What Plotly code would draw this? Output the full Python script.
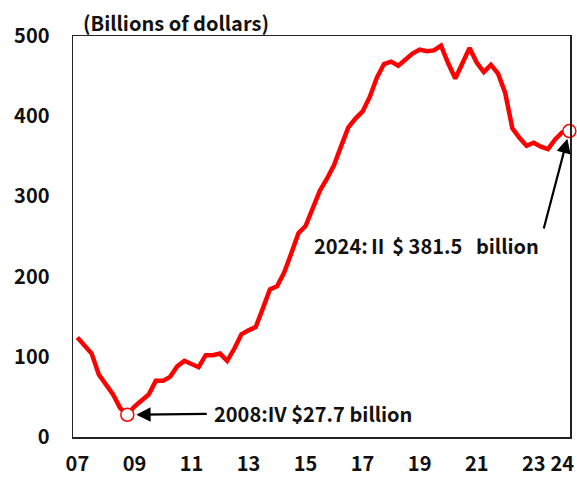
import plotly.graph_objects as go

# Quarterly values, 2007:I .. 2024:II (billions of dollars)
years = list(range(2007, 2025))
values = [124, 114, 104, 78, 66, 53, 36, 27.7,
          38, 46, 53, 70, 70, 75, 88, 95,
          91, 87, 102, 102, 104, 95, 110, 128,
          133, 137, 160, 184, 188, 205, 229, 254,
          263, 287, 307, 322, 339, 363, 386, 397,
          406, 424, 448, 465, 468, 463, 471, 478,
          483, 481, 482, 488, 466, 447, 466, 485,
          467, 455, 464, 453, 429, 385, 373, 363,
          367, 362, 359, 371, 380, 381.5]
tick_years = [2007, 2009, 2011, 2013, 2015, 2017, 2019, 2021, 2023, 2024]
tick_labels = ["07", "09", "11", "13", "15", "17", "19", "21", "23", "24"]
y_ticks = [0, 100, 200, 300, 400, 500]

x = [2007 + i / 4 for i in range(len(values))]
low_i = values.index(min(values))
last_i = len(values) - 1

FONT = "Noto Sans CJK KR"
FS = 20
W, H = 577, 477
L, T, R, B = 73, 36, 7, 40
PW, PH = W - L - R, H - T - B

fig = go.Figure()
fig.add_trace(go.Scatter(x=x, y=values, mode="lines",
                         line=dict(color="#FF0000", width=4.5),
                         hoverinfo="skip", cliponaxis=False))
fig.add_trace(go.Scatter(x=[x[low_i], x[last_i]], y=[values[low_i], values[last_i]],
                         mode="markers", cliponaxis=False, hoverinfo="skip",
                         marker=dict(size=13, color="white",
                                     line=dict(color="#FF0000", width=1.5))))

fig.update_layout(
    width=W, height=H,
    margin=dict(l=L, r=R, t=T, b=B, autoexpand=False),
    plot_bgcolor="white", paper_bgcolor="white",
    showlegend=False,
    font=dict(family=FONT, size=FS, color="#111111"),
)
fig.update_xaxes(range=[2006.846, 2024.272], tickvals=tick_years, ticktext=tick_labels,
                 showgrid=False, zeroline=False, showline=True, linecolor="#222222",
                 linewidth=1.5, mirror=True, ticks="", ticklabelstandoff=8,
                 automargin=False,
                 tickfont=dict(family=FONT, size=FS, weight="bold"))
fig.update_yaxes(range=[0, 500], tickvals=y_ticks,
                 showgrid=False, zeroline=False, showline=True, linecolor="#222222",
                 linewidth=1.5, mirror=True, ticks="", ticklabelstandoff=18,
                 automargin=False,
                 tickfont=dict(family=FONT, size=FS, weight="bold"))

# arrows
fig.add_annotation(x=x[low_i], y=values[low_i], ax=81, ay=-1, text="",
                   showarrow=True, arrowhead=2, arrowsize=1.3, arrowwidth=2.2,
                   arrowcolor="black", standoff=9)
fig.add_annotation(x=x[last_i], y=values[last_i], ax=-26, ay=99, text="",
                   showarrow=True, arrowhead=2, arrowsize=1.3, arrowwidth=2.2,
                   arrowcolor="black", standoff=8)

# labels (positions given in page pixels, converted to paper fractions)
def px(xp):
    return (xp - L) / PW
def py(yp):
    return (T + PH - yp) / PH

fig.add_annotation(xref="paper", yref="paper", x=px(212), y=py(413),
                   xanchor="left", yanchor="middle", showarrow=False,
                   text="<b>2008:IV $27.7 billion</b>",
                   font=dict(family=FONT, size=FS, color="#111111"))
fig.add_annotation(xref="paper", yref="paper", x=px(312), y=py(245),
                   xanchor="left", yanchor="middle", showarrow=False,
                   text="<b>2024:\u2161 $ 381.5 \u00a0\u00a0billion</b>",
                   font=dict(family=FONT, size=FS, color="#111111"))
fig.add_annotation(xref="paper", yref="paper", x=px(81), y=1.0,
                   xanchor="left", yanchor="bottom", showarrow=False,
                   text="<b>(Billions of dollars)</b>", yshift=-3,
                   font=dict(family=FONT, size=FS, color="#111111"))

# remove the browser's default 8px body margin so the figure sits at the page origin
fig.write_html("out.html", config={"displayModeBar": False, "staticPlot": True},
               post_script="document.body.style.margin='0';document.body.style.overflow='hidden';")
